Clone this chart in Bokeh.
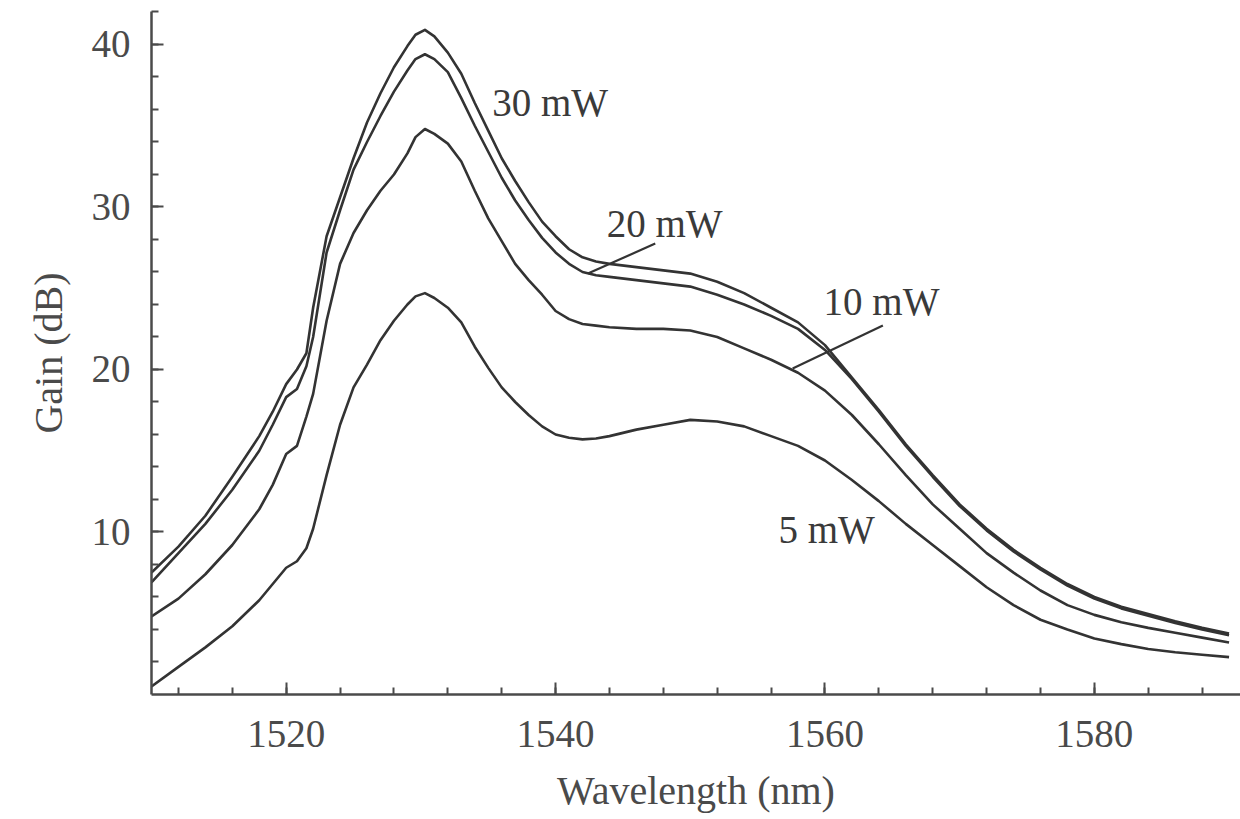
from bokeh.plotting import figure
from bokeh.models import Range1d, FixedTicker, ColumnDataSource
from bokeh.core.properties import value
from bokeh.embed import file_html
from bokeh.resources import INLINE

# Wavelength grid (nm) shared by all gain curves
wavelength = [1510, 1512, 1514, 1516, 1518, 1519, 1520, 1520.8, 1521.5, 1522, 1523,
              1524, 1525, 1526, 1527, 1528, 1529, 1529.6, 1530.3, 1531, 1532, 1533, 1534,
              1535, 1536, 1537, 1538, 1539, 1540, 1541, 1542, 1543, 1544, 1546, 1548, 1550,
              1552, 1554, 1556, 1558, 1560, 1562, 1564, 1566, 1568, 1570, 1572,
              1574, 1576, 1578, 1580, 1582, 1584, 1586, 1588, 1590]

# Gain (dB) for each pump power
gain_30mw = [7.5, 9.1, 11.0, 13.4, 15.9, 17.4, 19.1, 20.0, 21.0, 23.8, 28.2,
             30.6, 33.0, 35.2, 37.0, 38.6, 39.9, 40.6, 40.9, 40.5, 39.5, 38.2, 36.4,
             34.7, 33.0, 31.6, 30.3, 29.1, 28.2, 27.4, 26.9, 26.65, 26.5, 26.3, 26.1, 25.9,
             25.4, 24.7, 23.8, 22.9, 21.5, 19.5, 17.5, 15.4, 13.5, 11.7, 10.2,
             8.9, 7.8, 6.8, 6.0, 5.4, 4.95, 4.5, 4.1, 3.75]
gain_20mw = [6.9, 8.7, 10.5, 12.6, 15.0, 16.6, 18.3, 18.8, 20.2, 22.0, 27.2,
             29.8, 32.3, 34.0, 35.6, 37.1, 38.4, 39.1, 39.4, 39.1, 38.3, 36.7, 35.0,
             33.4, 31.8, 30.4, 29.2, 28.1, 27.2, 26.5, 26.0, 25.8, 25.7, 25.5, 25.3, 25.1,
             24.6, 24.0, 23.3, 22.5, 21.2, 19.4, 17.4, 15.3, 13.4, 11.6, 10.1,
             8.8, 7.7, 6.7, 5.9, 5.3, 4.85, 4.4, 4.0, 3.65]
gain_10mw = [4.8, 5.9, 7.4, 9.2, 11.4, 12.9, 14.8, 15.3, 17.1, 18.5, 23.0,
             26.5, 28.4, 29.8, 31.0, 32.0, 33.3, 34.3, 34.8, 34.5, 33.9, 32.8, 31.0,
             29.3, 27.9, 26.5, 25.5, 24.6, 23.6, 23.1, 22.8, 22.7, 22.6, 22.5, 22.5, 22.4,
             22.0, 21.3, 20.6, 19.8, 18.7, 17.2, 15.4, 13.5, 11.7, 10.2, 8.7,
             7.5, 6.4, 5.5, 4.9, 4.45, 4.1, 3.8, 3.5, 3.2]
gain_5mw = [0.5, 1.7, 2.9, 4.2, 5.8, 6.8, 7.8, 8.2, 9.0, 10.2, 13.5,
            16.6, 18.9, 20.3, 21.8, 23.0, 24.0, 24.5, 24.7, 24.4, 23.8, 22.9, 21.4,
            20.1, 18.9, 18.0, 17.2, 16.5, 16.0, 15.8, 15.7, 15.75, 15.9, 16.3, 16.6, 16.9,
            16.8, 16.5, 15.9, 15.3, 14.4, 13.2, 11.9, 10.5, 9.2, 7.9, 6.6,
            5.5, 4.6, 4.0, 3.45, 3.1, 2.8, 2.6, 2.45, 2.3]

# Curve annotations and their leader lines
curve_labels = ["30 mW", "20 mW", "10 mW", "5 mW"]
label_x = [1535.3, 1543.8, 1559.9, 1556.55]
label_y = [36.46, 28.96, 24.16, 10.13]
leader_x0 = [1547.4, 1564.3]
leader_y0 = [27.75, 22.7]
leader_x1 = [1542.4, 1557.6]
leader_y1 = [25.9, 20.06]

x_ticks = [1520, 1540, 1560, 1580]
x_minor = [1512 + 4 * i for i in range(20)]
y_ticks = [10, 20, 30, 40]
y_minor = [2 * i for i in range(1, 22)]

SERIF = "Liberation Serif"
INK = "#333333"
AXIS = "#4a4a4a"

p = figure(width=1240, height=819, output_backend="svg", toolbar_location=None,
           x_range=Range1d(1510, 1590.85), y_range=Range1d(0, 42.03),
           min_border_left=151, min_border_right=0, min_border_top=11,
           min_border_bottom=125)
p.background_fill_color = "white"
p.border_fill_color = "white"
p.outline_line_color = None
p.grid.visible = False

for g in (gain_30mw, gain_20mw, gain_10mw, gain_5mw):
    p.line(wavelength, g, line_color=INK, line_width=2.6, line_join="round")

leaders = ColumnDataSource(dict(x0=leader_x0, y0=leader_y0, x1=leader_x1, y1=leader_y1))
p.segment("x0", "y0", "x1", "y1", source=leaders, line_color=INK, line_width=2.2)

p.text(label_x, label_y, text=curve_labels, text_font=value(SERIF),
       text_font_size="39px", text_color="#3a3a3a", text_baseline="alphabetic",
       text_align="left")

xa = p.xaxis[0]
ya = p.yaxis[0]
xa.ticker = FixedTicker(ticks=x_ticks, minor_ticks=x_minor)
ya.ticker = FixedTicker(ticks=y_ticks, minor_ticks=y_minor)
xa.axis_label = "Wavelength (nm)"
ya.axis_label = "Gain (dB)"

for ax in (xa, ya):
    ax.axis_line_color = AXIS
    ax.axis_line_width = 2.5
    ax.major_tick_line_color = AXIS
    ax.minor_tick_line_color = AXIS
    ax.major_tick_line_width = 2
    ax.minor_tick_line_width = 2
    ax.major_tick_in = 12
    ax.major_tick_out = 0
    ax.minor_tick_in = 7
    ax.minor_tick_out = 0
    ax.major_label_text_font = SERIF
    ax.major_label_text_font_size = "39px"
    ax.major_label_text_color = "#4a4a4a"
    ax.axis_label_text_font = SERIF
    ax.axis_label_text_font_size = "40px"
    ax.axis_label_text_font_style = "normal"
    ax.axis_label_text_color = "#4a4a4a"

xa.major_label_standoff = 26
ya.major_label_standoff = 21
xa.axis_label_standoff = 18
ya.axis_label_standoff = 18

open("out.html", "w").write(file_html(p, INLINE))
